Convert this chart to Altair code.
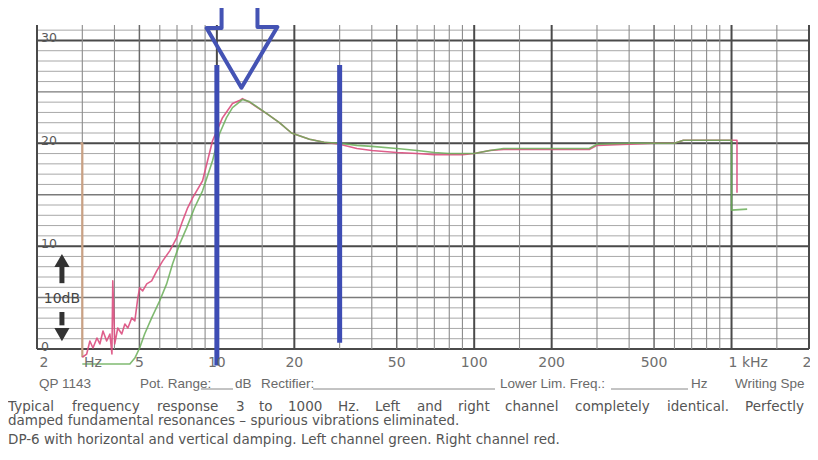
import altair as alt
import pandas as pd

# ---------------- measured curves (frequency in Hz, level in dB) ----------------
red_f = [3.0, 3.12, 3.21, 3.30, 3.42, 3.51, 3.61, 3.73, 3.84, 3.91, 3.94, 4.01, 4.12, 4.27,
         4.39, 4.51, 4.67, 4.80, 4.93, 5.01, 5.15, 5.34, 5.58, 5.84, 6.16, 6.56, 6.98, 7.36,
         7.70, 8.05, 8.80, 9.62, 10.52, 11.50, 12.24, 12.57, 13.38, 15.58, 17.5, 19.5, 22.9,
         26.1, 30, 35, 40, 50, 60, 70, 80, 90, 100, 115, 130, 200, 280, 300, 400, 500, 600,
         650, 800, 1000, 1050, 1050]
red_db = [-0.8, -0.49, 0.78, 0.1, 1.07, 0.49, 1.75, 0.78, 1.46, -0.49, 6.62, 0.49, 2.04, 1.46,
          2.43, 2.04, 3.02, 2.73, 4.97, 5.94, 5.65, 6.33, 6.62, 7.59, 8.57, 9.54, 10.81, 12.46,
          13.73, 14.70, 16.36, 20.25, 22.49, 23.86, 24.15, 24.34, 24.0, 22.9, 22.0, 21.0, 20.4,
          20.1, 19.9, 19.5, 19.3, 19.1, 19.0, 18.9, 18.9, 18.9, 19.0, 19.3, 19.4, 19.4, 19.4,
          19.8, 19.9, 20.0, 20.0, 20.3, 20.3, 20.3, 20.3, 15.2]

green_f = [3.0, 3.12, 3.51, 4.2, 4.59, 4.80, 5.01, 5.24, 5.58, 5.99, 6.38, 6.73, 7.17, 7.63,
           8.19, 8.80, 9.62, 10.24, 10.90, 11.50, 12.57, 13.38, 15.58, 17.5, 19.5, 22.9, 26.1,
           30, 35, 40, 50, 60, 70, 80, 90, 100, 115, 130, 200, 280, 300, 400, 500, 600, 650,
           800, 1000, 1000, 1150]
green_db = [-1.46, -1.46, -1.46, -1.46, -1.46, -0.88, 0.10, 1.46, 3.02, 4.67, 6.33, 8.28, 10.22,
            11.78, 13.73, 15.38, 18.3, 20.93, 22.49, 23.47, 24.25, 24.05, 22.9, 22.0, 21.0, 20.4,
            20.1, 20.0, 19.8, 19.7, 19.5, 19.3, 19.1, 19.0, 19.0, 19.0, 19.3, 19.5, 19.5, 19.5,
            19.9, 20.0, 20.0, 20.0, 20.3, 20.3, 20.3, 13.5, 13.6]

start_f = [2.95, 3.0, 3.0]
start_db = [20.0, 20.0, -0.8]

# ---------------- hand-drawn blue markings ----------------
marker_f = [10, 30]
marker_top = [27.6, 27.6]
marker_bottom = [-1.6, 0.6]
arrow_f = [10.43, 10.43, 9.12, 12.46, 17.18, 14.38, 14.38]
arrow_db = [33.9, 31.2, 31.2, 25.4, 31.3, 31.3, 33.9]

# ---------------- chart paper grid ----------------
grid_major_f = [2, 10, 20, 100, 200, 1000, 2000]
grid_mid_f = [5, 50, 500]
grid_minor_f = [3, 4, 6, 7, 8, 9, 15, 30, 40, 60, 70, 80, 90, 150, 300, 400, 600, 700, 800,
                900, 1500]
grid_db = list(range(0, 32))
db_major = [0, 10, 20, 30]
db_mid = [5, 15, 25]

# ---------------- texts ----------------
ylab_db = [30, 20, 10, 0]
xlab_f = [5, 10, 20, 50, 100, 200, 500]
xlab_t = ["5", "10", "20", "50", "100", "200", "500"]
footer_t = ["QP 1143", "Pot. Range:", "dB", "Rectifier:", "Lower Lim. Freq.:", "Hz",
            "Writing Spe"]
footer_px = [39, 140, 235, 261, 500, 691, 735]
underline_px = [(201, 233), (313, 495), (611, 688)]
caption1_words = ["Typical", "frequency", "response", "3", "to", "1000", "Hz.", "Left", "and",
                  "right", "channel", "completely", "identical.", "Perfectly"]
caption1_px = [8, 72, 157, 236, 259, 288, 338, 375, 417, 458, 505, 575, 667, 745]
caption_rest = ["damped fundamental resonances \u2013 spurious vibrations eliminated.",
                "DP-6 with horizontal and vertical damping. Left channel green. Right channel red."]
caption_py = [406.5, 421, 439.5]

W, H = 772, 324
OX, OY = 37, 25  # page position of plot origin
xs = alt.Scale(type="log", domain=[2, 2000])
ys = alt.Scale(domain=[0, 31.5])
X = lambda f: alt.X(f, scale=xs, axis=None)
Y = lambda f: alt.Y(f, scale=ys, axis=None)

# grid data
vg = pd.DataFrame(
    [{"f": f, "c": "#4a4a4a", "w": 2.0} for f in grid_major_f]
    + [{"f": f, "c": "#6a6a6a", "w": 1.5} for f in grid_mid_f]
    + [{"f": f, "c": "#8c8c8c", "w": 1.1} for f in grid_minor_f]
)
hg = pd.DataFrame(
    [{"d": d,
      "c": "#4a4a4a" if d in db_major else ("#7a7a7a" if d in db_mid else "#a8a8a8"),
      "w": 2.0 if d in db_major else (1.4 if d in db_mid else 1.0)} for d in grid_db]
)

vgrid = alt.Chart(vg).mark_rule().encode(
    x=X("f:Q"), y=alt.value(0), y2=alt.value(H),
    color=alt.Color("c:N", scale=None), strokeWidth=alt.StrokeWidth("w:Q", scale=None))
hgrid = alt.Chart(hg).mark_rule().encode(
    y=Y("d:Q"), x=alt.value(0), x2=alt.value(W),
    color=alt.Color("c:N", scale=None), strokeWidth=alt.StrokeWidth("w:Q", scale=None))

def curve(fs, ds, color, width, opacity=1.0):
    df = pd.DataFrame({"f": fs, "d": ds, "i": range(len(fs))})
    return alt.Chart(df).mark_line(color=color, strokeWidth=width, opacity=opacity,
                                   strokeJoin="round", clip=False).encode(
        x=X("f:Q"), y=Y("d:Q"), order="i:Q")

tan = curve(start_f, start_db, "#c9a184", 2.2)
red = curve(red_f, red_db, "#dc4f80", 1.6, 0.9)
green = curve(green_f, green_db, "#6aae58", 1.6, 0.85)

mk = pd.DataFrame({"f": marker_f, "t": marker_top, "b": marker_bottom})
markers = alt.Chart(mk).mark_rule(color="#3d4cb4", strokeWidth=5).encode(
    x=X("f:Q"), y=Y("t:Q"), y2="b:Q")
arrow = curve(arrow_f, arrow_db, "#4453b4", 4)

# y labels inside the plot
yl = pd.DataFrame({"d": ylab_db, "t": [str(v) for v in ylab_db]})
ylabels = alt.Chart(yl).mark_text(align="left", baseline="middle", dx=4, dy=-2,
                                  font="DejaVu Sans", fontSize=12.5, color="#5a5a5a").encode(
    x=alt.value(0), y=Y("d:Q"), text="t:N")

# 10 dB scale marker
tendb = alt.Chart(pd.DataFrame({"f": [2.5], "d": [4.9], "t": ["10dB"]})).mark_text(
    font="DejaVu Sans", fontSize=14, color="#444444", baseline="middle").encode(
    x=X("f:Q"), y=Y("d:Q"), text="t:N")
stems = alt.Chart(pd.DataFrame({"f": [2.5, 2.5], "a": [8.0, 2.3], "b": [6.4, 3.6]})).mark_rule(
    color="#333333", strokeWidth=5).encode(x=X("f:Q"), y=Y("a:Q"), y2="b:Q")
heads = alt.Chart(pd.DataFrame({"f": [2.5, 2.5], "d": [8.6, 1.4],
                                "s": ["triangle-up", "triangle-down"]})).mark_point(
    filled=True, size=230, color="#333333", opacity=1).encode(
    x=X("f:Q"), y=Y("d:Q"), shape=alt.Shape("s:N", scale=None))

# x labels below
LY = 363 - OY
xl = pd.DataFrame({"f": xlab_f, "t": xlab_t})
xlabels = alt.Chart(xl).mark_text(font="DejaVu Sans", fontSize=14, color="#6e6e6e",
                                  baseline="middle").encode(
    x=X("f:Q"), y=alt.value(LY), text="t:N")
xl2 = pd.DataFrame({"f": [2, 3.1], "t": ["2", "Hz"]})
xlabels2 = alt.Chart(xl2).mark_text(font="DejaVu Sans", fontSize=14, color="#6e6e6e",
                                    baseline="middle", dx=7).encode(
    x=X("f:Q"), y=alt.value(LY), text="t:N")
right2 = alt.Chart(pd.DataFrame({"f": [2000], "t": ["2"]})).mark_text(
    font="DejaVu Sans", fontSize=14, color="#6e6e6e", baseline="middle", dx=-2).encode(
    x=X("f:Q"), y=alt.value(LY), text="t:N")
khz = alt.Chart(pd.DataFrame({"f": [1000], "t": ["1 kHz"]})).mark_text(
    font="DejaVu Sans", fontSize=14, color="#6e6e6e", baseline="middle", align="left",
    dx=-3).encode(x=X("f:Q"), y=alt.value(LY), text="t:N")

# footer
ft = pd.DataFrame({"t": footer_t, "px": [p - OX for p in footer_px]})
footer = alt.Chart(ft).mark_text(font="Liberation Sans", fontSize=13.5, color="#6a6a6a",
                                 align="left", baseline="middle").encode(
    x=alt.X("px:Q", scale=None), y=alt.value(384 - OY), text="t:N")
ul = pd.DataFrame({"a": [a - OX for a, b in underline_px], "b": [b - OX for a, b in underline_px]})
underlines = alt.Chart(ul).mark_rule(color="#888888", strokeWidth=1).encode(
    x=alt.X("a:Q", scale=None), x2="b:Q", y=alt.value(389 - OY))

c1 = pd.DataFrame({"t": caption1_words, "px": [p - OX for p in caption1_px]})
caption1 = alt.Chart(c1).mark_text(font="DejaVu Sans", fontSize=13.5, color="#555555",
                                   align="left", baseline="middle").encode(
    x=alt.X("px:Q", scale=None), y=alt.value(caption_py[0] - OY), text="t:N")
cap = pd.DataFrame({"t": caption_rest, "py": [p - OY for p in caption_py[1:]]})
captions = alt.Chart(cap).mark_text(font="DejaVu Sans", fontSize=13.5, color="#555555",
                                    align="left", baseline="middle").encode(
    x=alt.value(8 - OX), y=alt.Y("py:Q", scale=None), text="t:N")

chart = alt.layer(
    hgrid, vgrid, tan, red, green, markers, arrow, ylabels, tendb, stems, heads,
    xlabels, xlabels2, right2, khz, footer, underlines, caption1, captions
).properties(
    width=W, height=H,
    autosize=alt.AutoSizeParams(type="none"),
    padding={"left": OX - 8, "top": OY - 8, "right": 1, "bottom": 98},
    background="white",
).configure_view(stroke=None)

chart.save("out.html", embed_options={"renderer": "svg", "actions": False})
